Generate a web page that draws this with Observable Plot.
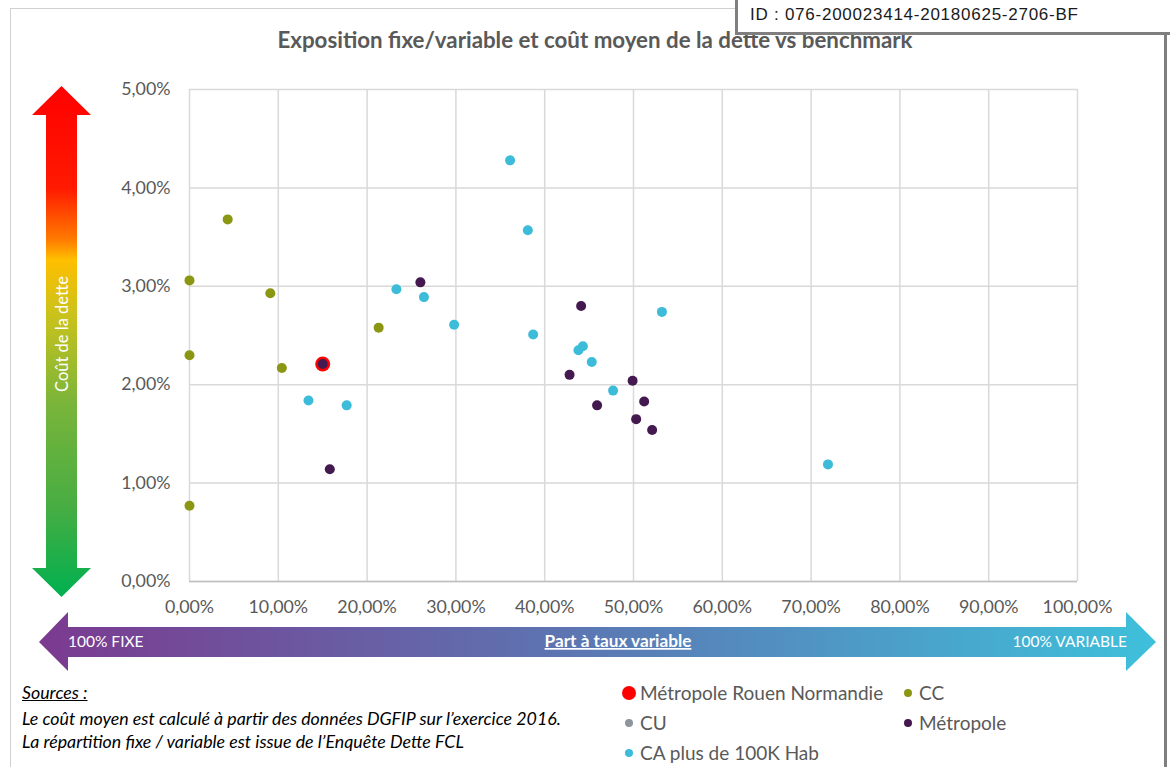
<!DOCTYPE html>
<html>
<head>
<meta charset="utf-8">
<script src="https://cdn.jsdelivr.net/npm/d3@7"></script>
<script src="https://cdn.jsdelivr.net/npm/@observablehq/plot@0.6"></script>
<style>
  html, body { margin: 0; padding: 0; background: #fff; }
  #root { position: relative; width: 1170px; height: 767px; overflow: hidden; font-family: Lato, "Open Sans", sans-serif; }
  .abs { position: absolute; }
  #frame { left: 10px; top: 8px; width: 1170px; height: 800px; border-left: 1.5px solid #d0d0d0; border-top: 1.5px solid #d0d0d0; }
  #title { left: 595px; top: 26px; transform: translateX(-50%); white-space: nowrap; font-size: 22.3px; font-weight: 700; color: #595959; line-height: 28px; }
  #idbox { left: 735px; top: -3px; width: 440px; height: 35px; background: #fff; border-left: 3px solid #7f7f7f; border-bottom: 3px solid #7f7f7f; }
  #idtext { left: 12px; top: 8px; font-family: "Liberation Sans", Arial, sans-serif; font-size: 17px; letter-spacing: 0.75px; color: #1a1a1a; white-space: nowrap; line-height: 20px; }
  #rightline { left: 1164px; top: 35px; width: 3px; height: 740px; background: #7f7f7f; }
  #chart { left: 0; top: 0; }
  .src { left: 22px; font-style: italic; font-size: 17.8px; color: #000; white-space: nowrap; line-height: 22px; }
  .leg { font-size: 19px; color: #595959; white-space: nowrap; line-height: 24px; }
  .dot { border-radius: 50%; }
</style>
</head>
<body>
<div id="root">
  <div id="frame" class="abs"></div>
  <div id="title" class="abs">Exposition fixe/variable et coût moyen de la dette vs benchmark</div>

  <svg class="abs" style="left:0;top:0" width="1170" height="767">
    <defs>
      <linearGradient id="vg" x1="0" y1="0" x2="0" y2="1">
        <stop offset="0" stop-color="#ff0000"/>
        <stop offset="0.2" stop-color="#ff1a00"/>
        <stop offset="0.3" stop-color="#ff7a00"/>
        <stop offset="0.34" stop-color="#ffbf00"/>
        <stop offset="0.45" stop-color="#c9c21c"/>
        <stop offset="0.62" stop-color="#7ab53a"/>
        <stop offset="0.82" stop-color="#48ad42"/>
        <stop offset="1" stop-color="#00b050"/>
      </linearGradient>
      <linearGradient id="hg" x1="0" y1="0" x2="1" y2="0">
        <stop offset="0" stop-color="#7b3a8f"/>
        <stop offset="0.45" stop-color="#5e72b0"/>
        <stop offset="1" stop-color="#3ec0db"/>
      </linearGradient>
    </defs>
    <polygon fill="url(#vg)" points="61.5,86 91,115 77,115 77,568 91,568 61.5,597 32,568 46,568 46,115 32,115"/>
    <polygon fill="url(#hg)" points="39,642 68,612 68,627 1126,627 1126,612 1156,642 1126,671 1126,657 68,657 68,671"/>
    <text x="68" y="334" transform="rotate(-90 68 334)" text-anchor="middle" fill="#fff" font-family="Lato, sans-serif" font-size="16.5">Coût de la dette</text>
    <text x="68" y="647" fill="#fff" font-family="Lato, sans-serif" font-size="15.5">100% FIXE</text>
    <text x="1127" y="647" text-anchor="end" fill="#fff" font-family="Lato, sans-serif" font-size="15.5">100% VARIABLE</text>
    <text x="618" y="647" text-anchor="middle" fill="#fff" font-family="Lato, sans-serif" font-size="17.2" font-weight="700" text-decoration="underline">Part à taux variable</text>
  </svg>

  <div id="chart" class="abs"></div>

  <div class="abs src" style="top:681px;text-decoration:underline;">Sources :</div>
  <div class="abs src" style="top:707px;">Le coût moyen est calculé à partir des données DGFIP sur l’exercice 2016.</div>
  <div class="abs src" style="top:730px;">La répartition fixe / variable est issue de l’Enquête Dette FCL</div>

  <div id="legend"></div>

  <div id="rightline" class="abs"></div>
  <div id="idbox" class="abs"><div id="idtext" class="abs">ID : 076-200023414-20180625-2706-BF</div></div>
</div>
<script>
// ---- data (x: part à taux variable, %, y: coût moyen de la dette, %) ----
const seriesNames = ["Métropole Rouen Normandie", "CC", "CU", "Métropole", "CA plus de 100K Hab"];
const seriesColors = ["#ff0000", "#8b9612", "#8e959c", "#43194f", "#3dbcd9"];

const rouenX = [15.0];
const rouenY = [2.21];

const ccX = [0.0, 4.3, 9.1, 0.0, 10.4, 21.3, 0.0];
const ccY = [3.06, 3.68, 2.93, 2.30, 2.17, 2.58, 0.77];

const cuX = [];
const cuY = [];

const metroX = [15.0, 15.8, 26.0, 44.1, 42.8, 49.9, 45.9, 51.2, 50.3, 52.1];
const metroY = [2.21, 1.14, 3.04, 2.80, 2.10, 2.04, 1.79, 1.83, 1.65, 1.54];

const caX = [13.4, 17.7, 23.3, 26.4, 29.8, 36.1, 38.1, 38.7, 43.8, 44.3, 45.3, 47.7, 53.2, 71.9];
const caY = [1.84, 1.79, 2.97, 2.89, 2.61, 4.28, 3.57, 2.51, 2.35, 2.39, 2.23, 1.94, 2.74, 1.19];

const xTicks = [0, 10, 20, 30, 40, 50, 60, 70, 80, 90, 100];
const yTicks = [0, 1, 2, 3, 4, 5];

const pts = (xs, ys) => xs.map((x, i) => ({x, y: ys[i]}));
const fmt = d => d3.format(".2f")(d).replace(".", ",") + "%";

const chart = Plot.plot({
  width: 1170,
  height: 630,
  marginLeft: 189,
  marginRight: 93,
  marginTop: 89,
  marginBottom: 49,
  style: {fontFamily: "Lato, sans-serif", fontSize: "17.8px", color: "#595959", background: "transparent", overflow: "visible"},
  x: {domain: [0, 100]},
  y: {domain: [0, 5]},
  marks: [
    Plot.gridX(xTicks, {stroke: "#d9d9d9", strokeOpacity: 1, strokeWidth: 1.5}),
    Plot.gridY(yTicks, {stroke: "#d9d9d9", strokeOpacity: 1, strokeWidth: 1.5}),
    Plot.ruleY([0], {stroke: "#bfbfbf", strokeWidth: 1.5}),
    Plot.axisX({ticks: xTicks, tickSize: 0, tickPadding: 19, tickFormat: fmt, label: null}),
    Plot.axisY({ticks: yTicks, tickSize: 0, tickPadding: 19, tickFormat: fmt, label: null}),
    Plot.dot(pts(rouenX, rouenY), {x: "x", y: "y", r: 7.5, fill: seriesColors[0]}),
    Plot.dot(pts(ccX, ccY), {x: "x", y: "y", r: 5, fill: seriesColors[1]}),
    Plot.dot(pts(cuX, cuY), {x: "x", y: "y", r: 5, fill: seriesColors[2]}),
    Plot.dot(pts(metroX, metroY), {x: "x", y: "y", r: 5, fill: seriesColors[3]}),
    Plot.dot(pts(caX, caY), {x: "x", y: "y", r: 5, fill: seriesColors[4]})
  ]
});
document.getElementById("chart").appendChild(chart);

// legend (HTML)
const legPos = [[629, 693], [908, 693], [629, 723], [908, 723], [629, 753]];
const legR = [7, 4, 4, 4, 4];
const leg = document.getElementById("legend");
seriesNames.forEach((name, i) => {
  const [cx, cy] = legPos[i];
  const d = document.createElement("div");
  d.className = "abs dot";
  d.style.cssText = `left:${cx - legR[i]}px;top:${cy - legR[i]}px;width:${2 * legR[i]}px;height:${2 * legR[i]}px;background:${seriesColors[i]}`;
  leg.appendChild(d);
  const t = document.createElement("div");
  t.className = "abs leg";
  t.style.cssText = `left:${cx + 11}px;top:${cy - 12}px;`;
  t.textContent = name;
  leg.appendChild(t);
});
</script>
</body>
</html>
